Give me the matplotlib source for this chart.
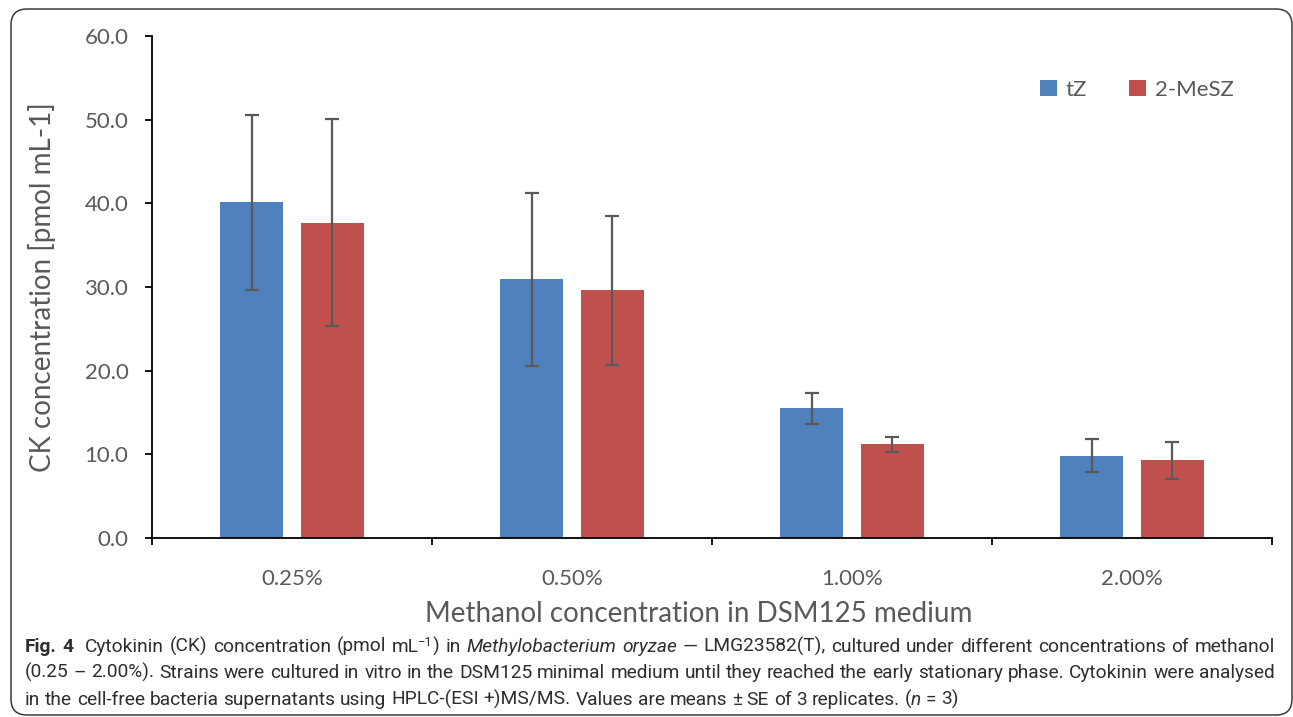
import re
import matplotlib
matplotlib.use("Agg")
import matplotlib.pyplot as plt
import matplotlib.font_manager as fm
from matplotlib.patches import FancyBboxPatch
from matplotlib.transforms import IdentityTransform
import numpy as np

categories = ["0.25%", "0.50%", "1.00%", "2.00%"]
tz = [40.1, 30.9, 15.5, 9.85]
tz_err = [10.4, 10.3, 1.85, 2.0]
mesz = [37.7, 29.6, 11.2, 9.3]
mesz_err = [12.35, 8.9, 0.9, 2.2]
series_names = ["tZ", "2-MeSZ"]
yticks = [0, 10, 20, 30, 40, 50, 60]

W, H = 1293, 717


def has_font(name):
    try:
        fm.findfont(fm.FontProperties(family=name), fallback_to_default=False)
        return True
    except ValueError:
        return False


def first_font(names):
    for n in names:
        if has_font(n):
            return n
    return "DejaVu Sans"


chart_font = first_font(["Lato", "Open Sans"])
cap_font = first_font(["Roboto", "Noto Sans"])
plt.rcParams["font.family"] = [chart_font, "DejaVu Sans"]

grey = "#595959"
fig = plt.figure(figsize=(W / 100, H / 100), dpi=100)
ax = fig.add_axes([152 / W, 1 - 538 / H, 1120 / W, 502 / H])

x = np.arange(len(categories))
bw = 0.225
off = 0.143
ax.bar(x - off, tz, bw, color="#4F81BD", label=series_names[0], zorder=2)
ax.bar(x + off, mesz, bw, color="#C0504D", label=series_names[1], zorder=2)
ekw = dict(fmt="none", ecolor=grey, elinewidth=1.6, capsize=5, capthick=1.6, zorder=3)
ax.errorbar(x - off, tz, yerr=tz_err, **ekw)
ax.errorbar(x + off, mesz, yerr=mesz_err, **ekw)

ax.set_xlim(-0.5, len(categories) - 0.5)
ax.set_ylim(0, 60)
ax.set_yticks(yticks)
ax.set_yticklabels([f"{v:.1f}" for v in yticks])
ax.set_xticks(np.arange(len(categories) + 1) - 0.5)
ax.set_xticklabels([])
ax.set_xticks(x, minor=True)
ax.set_xticklabels(categories, minor=True)
ax.tick_params(axis="x", which="major", length=5, width=1.3, direction="out")
ax.tick_params(axis="x", which="minor", length=0, pad=22, labelsize=16, labelcolor=grey)
ax.tick_params(axis="y", length=5, width=1.3, direction="out", pad=12, labelsize=16, labelcolor=grey)
for s in ["top", "right"]:
    ax.spines[s].set_visible(False)
for s in ["left", "bottom"]:
    ax.spines[s].set_linewidth(1.3)

ax.set_ylabel("CK concentration [pmol mL-1]", fontsize=20, color=grey)
ax.yaxis.set_label_coords(-0.086, 0.5)
ax.set_xlabel("Methanol concentration in DSM125 medium", fontsize=20, color=grey)
ax.xaxis.set_label_coords(0.488, -0.125)

ax.legend(loc="center", bbox_to_anchor=(1137 / W, 1 - 90 / H), bbox_transform=fig.transFigure,
          ncol=2, frameon=False, fontsize=16, labelcolor=grey, handlelength=0.75,
          handleheight=0.75, handletextpad=0.4, columnspacing=1.9)

# rounded border around chart and caption
box = FancyBboxPatch((11, 2), 1281, 706, boxstyle="round,pad=0,rounding_size=16",
                     transform=IdentityTransform(), fill=False, ec="#3a3a3a", lw=1.1)
fig.add_artist(box)

# caption, laid out word by word so that mixed styles and justification work
renderer = fig.canvas.get_renderer()


def text_width(s, size, **kw):
    t = fig.text(0, 0, s, fontsize=size, family=cap_font, transform=IdentityTransform(), **kw)
    w = t.get_window_extent(renderer).width
    t.remove()
    return w


def tokens(runs):
    out = []
    pending = 0
    for s, kw in runs:
        for m in re.finditer(r"(\s*)(\S+)(\s*)", s):
            gap = pending + len(m.group(1))
            out.append((m.group(2), kw, gap))
            pending = len(m.group(3))
        if not s.strip():
            pending += len(s)
    return out


def caption_line(runs, x0, base, size, target=None):
    toks = tokens(runs)
    sw = text_width("a a", size) - text_width("aa", size)
    widths = []
    for w, kw, g in toks:
        sc = kw.get("scale", 1.0)
        st = {k: v for k, v in kw.items() if k not in ("scale", "dy")}
        widths.append(text_width(w, size * sc, **st))
    gaps = sum(g for _, _, g in toks[1:])
    total = sum(widths) + gaps * sw
    unit = sw
    if target is not None and gaps:
        unit = sw + (target - total) / gaps
    xp = x0
    for i, (w, kw, g) in enumerate(toks):
        if i:
            xp += g * unit
        sc = kw.get("scale", 1.0)
        st = {k: v for k, v in kw.items() if k not in ("scale", "dy")}
        fig.text(xp, base + kw.get("dy", 0), w, fontsize=size * sc, family=cap_font,
                 color="#2e2e2e", va="baseline", transform=IdentityTransform(), **st)
        xp += widths[i]


reg = {}
bold = {"weight": "bold"}
ital = {"style": "italic"}
sup = {"scale": 0.68, "dy": 6}

line1 = [("Fig. 4", bold), ("  Cytokinin (CK) concentration (pmol mL", reg), ("\u22121", sup),
         (") in ", reg), ("Methylobacterium oryzae", ital),
         (" \u2014 LMG23582(T), cultured under different concentrations of methanol", reg)]
line2 = [("(0.25 \u2013 2.00%). Strains were cultured in vitro in the DSM125 minimal medium until "
          "they reached the early stationary phase. Cytokinin were analysed", reg)]
line3 = [("in the cell-free bacteria supernatants using HPLC-(ESI +)MS/MS. Values are means \u00b1 SE "
          "of 3 replicates. (", reg), ("n", ital), (" = 3)", reg)]

x0, target = 25, 1250
nat2 = text_width(line2[0][0], 10)
cap_size = min(14.0, max(11.0, 10 * (target - 6) / nat2))
caption_line(line1, x0, H - 652, cap_size, target)
caption_line(line2, x0, H - 678, cap_size, target)
caption_line(line3, x0, H - 705, cap_size)

fig.savefig("out.png", dpi=100)
